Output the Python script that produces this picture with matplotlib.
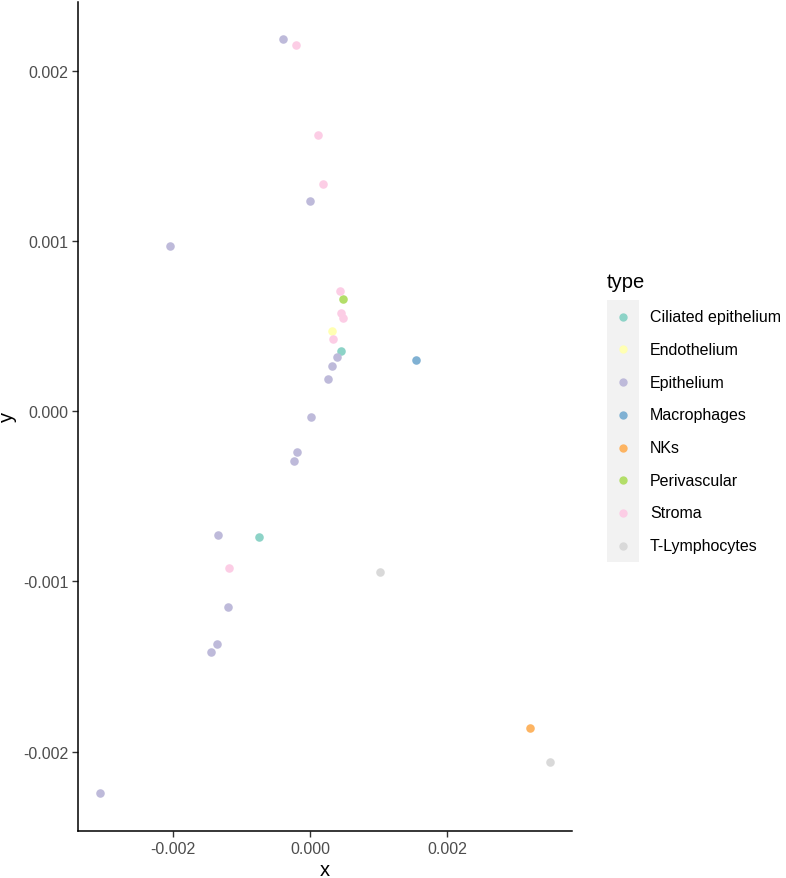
#!/usr/bin/env python3

##
# plot.py
#
# Scatter of cell embeddings coloured by cell type, ggplot classic look.
##
import matplotlib
matplotlib.use('Agg')
import matplotlib.pyplot as plt
from matplotlib.lines import Line2D
from matplotlib.patches import Rectangle

TYPES = ['Ciliated epithelium', 'Endothelium', 'Epithelium', 'Macrophages',
         'NKs', 'Perivascular', 'Stroma', 'T-Lymphocytes']
COLORS = ['#8DD3C7', '#FFFFB3', '#BEBADA', '#80B1D3',
          '#FDB462', '#B3DE69', '#FCCDE5', '#D9D9D9']

# Points per type
CILIATED_X = [0.00046, -0.00075]
CILIATED_Y = [0.000353, -0.000738]
ENDO_X = [0.000324]
ENDO_Y = [0.000468]
EPI_X = [-0.000387, 0.0, -0.00205, 0.000397, 0.000324, 0.00026, 0.00001,
         -0.000187, -0.00024, -0.001338, -0.00119, -0.001363, -0.001441, -0.00306]
EPI_Y = [0.002185, 0.001236, 0.00097, 0.000318, 0.000263, 0.000187, -0.000032,
         -0.000242, -0.00029, -0.00073, -0.001148, -0.001368, -0.001416, -0.002245]
MACRO_X = [0.00155]
MACRO_Y = [0.000302]
NK_X = [0.003216]
NK_Y = [-0.001862]
PERI_X = [0.00049]
PERI_Y = [0.000658]
STROMA_X = [-0.00021, 0.000113, 0.000187, 0.000437, 0.000456, 0.000481,
            0.000338, -0.001187]
STROMA_Y = [0.00215, 0.001623, 0.001333, 0.000705, 0.000576, 0.00055,
            0.000423, -0.000922]
TLYMPH_X = [0.00103, 0.0035]
TLYMPH_Y = [-0.000945, -0.002063]

SERIES = [(CILIATED_X, CILIATED_Y), (ENDO_X, ENDO_Y), (EPI_X, EPI_Y),
          (MACRO_X, MACRO_Y), (NK_X, NK_Y), (PERI_X, PERI_Y),
          (STROMA_X, STROMA_Y), (TLYMPH_X, TLYMPH_Y)]

XTICKS = [-0.002, 0.0, 0.002]
YTICKS = [-0.002, -0.001, 0.0, 0.001, 0.002]

W, H = 786, 879


def fx(px):
    return px / W


def fy(py):
    return 1 - py / H


if __name__ == '__main__':
    plt.rcParams['font.family'] = ['Liberation Sans', 'DejaVu Sans']
    fig = plt.figure(figsize=(W / 100, H / 100), dpi=100)
    ax = fig.add_axes([fx(78), fy(832), fx(572) - fx(78), fy(2.5) - fy(832)])

    for (xs, ys), color in zip(SERIES, COLORS):
        ax.scatter(xs, ys, s=38, color=color, linewidths=0, zorder=3)

    # ggplot style 5% expansion on each side
    allx = [v for xs, _ in SERIES for v in xs]
    ally = [v for _, ys in SERIES for v in ys]
    dx = (max(allx) - min(allx)) * 0.05
    dy = (max(ally) - min(ally)) * 0.05
    ax.set_xlim(min(allx) - dx, max(allx) + dx)
    ax.set_ylim(min(ally) - dy, max(ally) + dy)

    ax.set_xticks(XTICKS)
    ax.set_xticklabels(['{:.3f}'.format(v) for v in XTICKS])
    ax.set_yticks(YTICKS)
    ax.set_yticklabels(['{:.3f}'.format(v) for v in YTICKS])
    ax.tick_params(length=4, width=1.0, color='#333333', labelcolor='#4D4D4D',
                   labelsize=11.5, pad=3)
    for side in ['top', 'right']:
        ax.spines[side].set_visible(False)
    for side in ['left', 'bottom']:
        ax.spines[side].set_linewidth(1.1)
        ax.spines[side].set_color('black')

    ax.set_xlabel('x', fontsize=14.5, labelpad=3)
    ax.set_ylabel('y', fontsize=14.5, labelpad=4)

    # Legend drawn by hand so the key column gets the grey ggplot fill
    key_left, key_right = 607, 639
    first, step = 317.7, 32.7
    fig.text(fx(607), fy(283), 'type', fontsize=14.5, va='center', ha='left')
    fig.add_artist(Rectangle((fx(key_left), fy(first + step * (len(TYPES) - 0.5))),
                             fx(key_right) - fx(key_left), step * len(TYPES) / H,
                             transform=fig.transFigure, facecolor='#F2F2F2',
                             edgecolor='none'))
    for i, (name, color) in enumerate(zip(TYPES, COLORS)):
        yc = first + step * i
        fig.add_artist(Line2D([fx(623)], [fy(yc)], marker='o', markersize=6,
                              markerfacecolor=color, markeredgewidth=0,
                              linestyle='none', transform=fig.transFigure))
        fig.text(fx(650), fy(yc), name, fontsize=11.5, va='center', ha='left')

    plt.savefig('out.png', dpi=100)
    plt.close()
